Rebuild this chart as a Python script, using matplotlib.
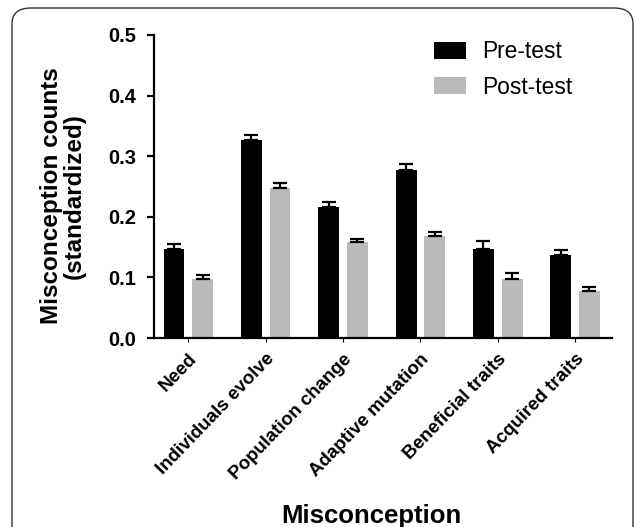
import matplotlib

matplotlib.use("Agg")
import matplotlib.pyplot as plt
import numpy as np
from matplotlib.patches import FancyBboxPatch

plt.rcParams["font.family"] = ["Liberation Sans", "DejaVu Sans"]

categories = ["Need", "Individuals evolve", "Population change",
              "Adaptive mutation", "Beneficial traits", "Acquired traits"]
pre_test = [0.147, 0.327, 0.217, 0.277, 0.147, 0.137]
pre_err = [0.008, 0.008, 0.007, 0.010, 0.013, 0.008]
post_test = [0.098, 0.248, 0.158, 0.168, 0.098, 0.078]
post_err = [0.006, 0.007, 0.006, 0.007, 0.009, 0.006]
y_ticks = [0.0, 0.1, 0.2, 0.3, 0.4, 0.5]

BLACK = "#000000"
GREY = "#bababa"

fig = plt.figure(figsize=(6.35, 5.27), dpi=100)
ax = fig.add_axes([0.2425, 0.3586, 0.7205, 0.575])

# rounded frame around the whole panel (bottom edge runs off the image)
frame = FancyBboxPatch((12 / 635, -0.05), 621 / 635, 1 - 8 / 527 + 0.05,
                       boxstyle="round,pad=0,rounding_size=0.03",
                       transform=fig.transFigure, fill=False,
                       edgecolor="#333333", linewidth=1.0)
fig.patches.append(frame)

x = np.arange(len(categories))
w = 0.27
off = 0.185
ekw = dict(elinewidth=1.6, capthick=1.6, ecolor="black")
ax.bar(x - off, pre_test, w, color=BLACK, label="Pre-test",
       yerr=[np.zeros(len(pre_err)), pre_err], capsize=5, error_kw=ekw)
ax.bar(x + off, post_test, w, color=GREY, label="Post-test",
       yerr=[np.zeros(len(post_err)), post_err], capsize=5, error_kw=ekw)

ax.set_xlim(-0.443, 5.47)
ax.set_ylim(0, 0.5)
ax.set_yticks(y_ticks)
ax.set_yticklabels([f"{v:.1f}" for v in y_ticks], fontsize=14.5, fontweight="bold")
ax.set_xticks(x)
ax.set_xticklabels(categories, rotation=46, ha="right", rotation_mode="anchor",
                   fontsize=13.5, fontweight="bold")

for side in ("top", "right"):
    ax.spines[side].set_visible(False)
for side in ("left", "bottom"):
    ax.spines[side].set_linewidth(1.6)
ax.tick_params(axis="y", length=5, width=1.6, pad=8)
ax.tick_params(axis="x", length=3, width=0.8, pad=6)

ax.set_ylabel("Misconception counts\n(standardized)", fontsize=17.5,
              fontweight="bold", linespacing=0.95)
ax.yaxis.set_label_coords(-0.15, 0.47)
ax.set_xlabel("Misconception", fontsize=18.5, fontweight="bold")
ax.xaxis.set_label_coords(0.476, -0.548)

ax.legend(loc="upper left", bbox_to_anchor=(0.612, 0.983), frameon=False,
          fontsize=16.4, handlelength=1.4, handleheight=0.75,
          labelspacing=0.55, handletextpad=0.7, borderpad=0, borderaxespad=0)

fig.savefig("out.png", dpi=100)
